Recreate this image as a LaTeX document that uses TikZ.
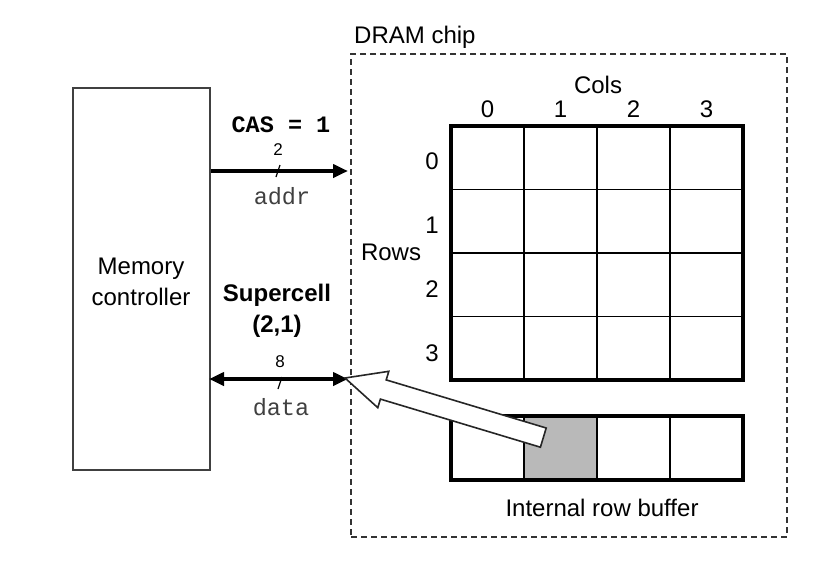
\documentclass[tikz,border=0pt]{standalone}
\usepackage{fontspec}
\setmainfont{Liberation Sans}
\setmonofont{Liberation Mono}
\usetikzlibrary{arrows.meta,calc}
\begin{document}
\begin{tikzpicture}[x=1pt,y=-1pt,
  lbl/.style={font=\fontsize{24}{28}\selectfont, inner sep=0pt},
  digit/.style={font=\fontsize{24}{28}\selectfont, inner sep=0pt, text height=17pt, text depth=0pt},
  blbl/.style={font=\fontsize{24}{28}\selectfont\bfseries, inner sep=0pt},
  small/.style={font=\fontsize{17}{19}\selectfont, inner sep=0pt, text height=12pt, text depth=0pt},
  mono/.style={font=\fontsize{23.5}{27}\selectfont\ttfamily, inner sep=0pt, text=black!75},
  bmono/.style={font=\fontsize{23.5}{27}\selectfont\ttfamily\bfseries, inner sep=0pt},
  box/.style={draw=black!75, line width=1.8pt, inner sep=0pt},
  chipbox/.style={draw=black!80, line width=1.3pt, dash pattern=on 6pt off 4pt, inner sep=0pt},
  thin/.style={line width=1.5pt},
  thick/.style={line width=4pt},
  bus/.style={line width=4pt, -{Triangle[length=15pt,width=13pt]}},
  dbus/.style={line width=4pt, {Triangle[length=15pt,width=13pt]}-{Triangle[length=15pt,width=13pt]}},
  tick/.style={line width=1.2pt},
  hollow/.style={draw=black!85, fill=white, line width=1.6pt, line join=miter}
]
\useasboundingbox (0,0) rectangle (834,576);

% Memory controller
\node[box, minimum width=137pt, minimum height=382pt] (mc) at (141.5,279) {};
\node[lbl, align=center] (mctext) at (141,282) {Memory\\[3pt]controller};

% DRAM chip
\node[chipbox, minimum width=436pt, minimum height=483pt] (chip) at (569,295.5) {};
\node[lbl, anchor=west] (chiplbl) at (354,37) {DRAM chip};

% Grid
\node[inner sep=0pt, minimum width=292pt, minimum height=254pt] (grid) at (597,253) {};
\foreach \i in {1,2,3} {
  \draw[thin] ($(grid.north west)+(73*\i,0)$) -- ($(grid.south west)+(73*\i,0)$);
}
\foreach \j in {1,2,3} {
  \draw[thin] ($(grid.north west)+(0,63.5*\j)$) -- ($(grid.north east)+(0,63.5*\j)$);
}
\draw[thick] (grid.north west) rectangle (grid.south east);

\node[lbl] (cols) at (598,85) {Cols};
\foreach \c in {0,1,2,3} {
  \node[digit] (c\c) at (487.5+73*\c,109) {\c};
}
\node[lbl] (rows) at (391,252) {Rows};
\foreach \r in {0,1,2,3} {
  \node[digit] (r\r) at (432,161+64*\r) {\r};
}

% Row buffer
\node[inner sep=0pt, minimum width=292pt, minimum height=64pt] (buf) at (597,448) {};
\fill[gray!55] ($(buf.north west)+(73,0)$) rectangle ($(buf.south west)+(146,0)$);
\foreach \i in {1,2,3} {
  \draw[thin] ($(buf.north west)+(73*\i,0)$) -- ($(buf.south west)+(73*\i,0)$);
}
\draw[thick] (buf.north west) rectangle (buf.south east);
\node[lbl] (buflbl) at (602,508) {Internal row buffer};

% Buses
\coordinate (addrL) at (mc.east |- 0,171);
\coordinate (addrR) at (348,171);
\draw[bus] (addrL) -- (addrR);
\coordinate (dataL) at (209,379);
\coordinate (dataR) at (348,379);
\draw[dbus] (dataL) -- (dataR);

\node[bmono] (cas) at (281,125) {CAS = 1};
\node[small] (two) at (278,149) {2};
\draw[tick] (276,177) -- (280,165);
\node[mono] (addr) at (282,196) {addr};

\node[blbl, align=center] (sc) at (277,311) {Supercell\\[3pt](2,1)};
\node[small] (eight) at (280,361) {8};
\draw[tick] (278,389) -- (282,377);
\node[mono] (data) at (281,407) {data};

% Hollow arrow from supercell to data bus
\draw[hollow] (345,378) -- (388.8,371.3) -- (386.2,379.9) -- (546.2,428.0)
  -- (540.4,447.2) -- (380.4,399.1) -- (377.8,407.7) -- cycle;
\end{tikzpicture}
\end{document}
